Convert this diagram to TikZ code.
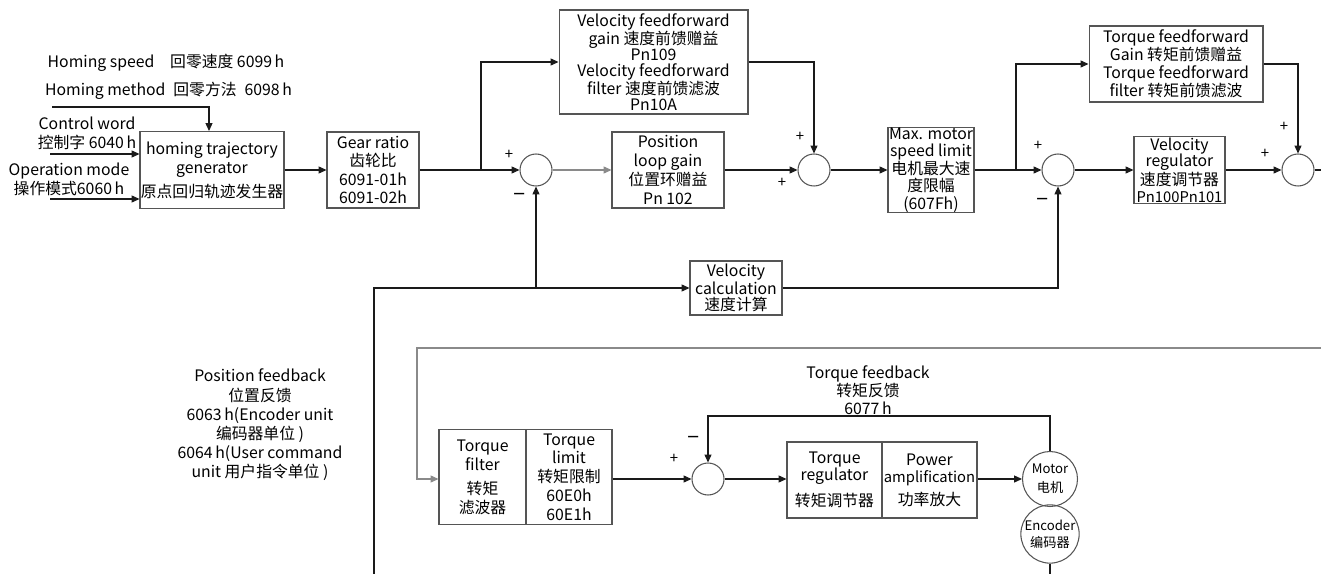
\documentclass[tikz,border=0pt]{standalone}
\usepackage{fontspec}
\setmainfont{Noto Sans CJK SC}
\usetikzlibrary{arrows.meta,calc}
\definecolor{boxc}{HTML}{555555}
\definecolor{linec}{HTML}{1A1A1A}
\definecolor{grayln}{HTML}{8A8A8A}
\tikzset{
  every node/.style={inner sep=0pt, font=\fontsize{9}{10}\selectfont},
  fs/.style 2 args={font=\fontsize{#1}{#2}\selectfont},
  box/.style={draw=boxc, line width=0.6pt, align=center},
  sumc/.style={draw=boxc, circle, minimum size=0.64cm, line width=0.6pt},
  mcirc/.style={draw=boxc, circle, minimum size=1.1cm, line width=0.6pt, align=center},
  arr/.style={draw=linec, line width=0.6pt, -{Triangle[length=4.5pt,width=4pt]}},
  ln/.style={draw=linec, line width=0.6pt},
  lbl/.style={align=center},
  sgn/.style={fs={8.5}{8.5}},
  mns/.style={fs={13}{13}},
}
\begin{document}
\begin{tikzpicture}[x=0.02cm,y=-0.02cm]
\useasboundingbox (0,0) rectangle (1321,574);
% ---------- top row ----------
\node[box, minimum width=2.88cm, minimum height=1.54cm, fs={9}{11.2}] (homing) at (212,170) {homing trajectory\\generator\\[2pt]原点回归轨迹发生器};
\node[box, minimum width=1.84cm, minimum height=1.52cm, fs={9}{10.6}] (gear) at (373,170) {Gear ratio\\齿轮比\\6091-01h\\6091-02h};
\node[sumc] (s1) at (536,170) {};
\node[box, minimum width=3.78cm, minimum height=2.08cm, fs={9}{8.9}] (vff) at (653.5,62) {Velocity feedforward\\gain 速度前馈赠益\\Pn109\\Velocity feedforward\\filter 速度前馈滤波\\Pn10A};
\node[box, minimum width=2.24cm, minimum height=1.52cm, fs={9}{10.8}] (pos) at (668,170) {Position\\loop gain\\位置环赠益\\Pn 102};
\node[sumc] (s2) at (814,170) {};
\node[box, minimum width=1.72cm, minimum height=1.70cm, fs={9}{10}] (max) at (931,170) {Max. motor\\speed limit\\电机最大速\\度限幅\\(607Fh)};
\node[box, minimum width=3.48cm, minimum height=1.52cm, fs={9}{10.3}] (tff) at (1176,64) {Torque feedforward\\Gain 转矩前馈赠益\\Torque feedforward\\filter 转矩前馈滤波};
\node[sumc] (s3) at (1058,170) {};
\node[box, minimum width=1.82cm, minimum height=1.34cm, fs={9}{9.3}] (vr) at (1179.5,170) {Velocity\\regulator\\速度调节器\\{\fontsize{8.4}{9.3}\selectfont Pn100Pn101}};
\node[sumc] (s4) at (1298,170) {};
% ---------- middle ----------
\node[box, minimum width=1.84cm, minimum height=1.08cm, fs={9}{9.2}] (vel) at (736,288) {Velocity\\calculation\\速度计算};
% ---------- bottom row ----------
\node[box, minimum width=1.74cm, minimum height=1.90cm, fs={9}{10.8}] (tfilter) at (482.5,477) {Torque\\filter\\[3pt]转矩\\滤波器};
\node[box, minimum width=1.72cm, minimum height=1.90cm, fs={9}{10.7}] (tlimit) at (569,477) {Torque\\limit\\转矩限制\\60E0h\\60E1h};
\node[sumc] (s5) at (708,479) {};
\node[box, minimum width=1.90cm, minimum height=1.52cm, fs={9}{9.8}] (treg) at (834.5,480) {Torque\\regulator\\[4pt]转矩调节器};
\node[box, minimum width=1.90cm, minimum height=1.52cm, fs={9}{9.8}] (pamp) at (929.5,480) {Power\\{\fontsize{8.4}{9.8}\selectfont amplification}\\[3pt]功率放大};
\node[mcirc, fs={7.5}{10.8}] (motor) at (1050,479) {Motor\\电机};
\node[mcirc, fs={7.5}{9.7}] (encoder) at (1050,534) {Encoder\\编码器};
% ---------- labels ----------
\node[lbl] (hs) at (166,63) {Homing speed\quad 回零速度 6099\,h};
\node[lbl] (hm) at (168.5,91) {Homing method\enspace 回零方法\enspace 6098\,h};
\node[lbl, fs={9}{10.8}] (cw) at (87,133.5) {Control word\\控制字 6040\,h};
\node[lbl, fs={9}{10.8}] (om) at (69,179.5) {Operation mode\\操作模式6060\,h};
\node[lbl, fs={9}{10.9}] (pfb) at (260,425) {Position feedback\\位置反馈\\6063\,h(Encoder unit\\编码器单位 )\\6064\,h(User command\\unit 用户指令单位 )};
\node[lbl, fs={9}{10.2}] (tfb) at (868,390) {Torque feedback\\转矩反馈\\6077\,h};
% signs
\node[sgn] (p1) at (509,155) {+};
\node[mns] (m1) at (520,197) {–};
\node[sgn] (p2a) at (800,137) {+};
\node[sgn] (p2b) at (782,183) {+};
\node[sgn] (p3) at (1038,146) {+};
\node[mns] (m3) at (1043,202) {–};
\node[sgn] (p4a) at (1284,127) {+};
\node[sgn] (p4b) at (1265,154) {+};
\node[sgn] (p5) at (674,459) {+};
\node[mns] (m5) at (694,440) {–};
% ---------- connectors ----------
\coordinate (hsrc) at (52,107);
\coordinate (hbend) at (209,107);
\draw[arr] (hsrc) -- (hbend) -- (hbend |- homing.north);
\coordinate (cwsrc) at (50,154);
\draw[arr] (cwsrc) -- (cwsrc -| homing.west);
\coordinate (omsrc) at (50,199);
\draw[arr] (omsrc) -- (omsrc -| homing.west);
\draw[arr] (homing.east) -- (gear.west);
\draw[arr] (gear.east) -- (s1.west);
\coordinate (br1) at (481,170);
\draw[arr] (br1) |- (vff.west);
\draw[arr, draw=grayln] (s1.east) -- (pos.west);
\draw[arr] (pos.east) -- (s2.west);
\draw[arr] (vff.east) -| (s2.north);
\draw[arr] (s2.east) -- (max.west);
\draw[arr] (max.east) -- (s3.west);
\coordinate (br2) at (1016,170);
\draw[arr] (br2) |- (tff.west);
\draw[arr] (tff.east) -| (s4.north);
\draw[arr] (s3.east) -- (vr.west);
\draw[arr] (vr.east) -- (s4.west);
\coordinate (out) at (1321,170);
\draw[ln] (s4.east) -- (out);
\coordinate (pfbsrc) at (374,574);
\draw[arr] (pfbsrc) |- (vel.west);
\coordinate (br3) at (536,288);
\draw[arr] (br3) -- (s1.south);
\draw[arr] (vel.east) -| (s3.south);
\coordinate (tsrc) at (1321,348);
\coordinate (tcorner) at (417,348);
\draw[arr, draw=grayln] (tsrc) -- (tcorner) |- (s5 -| tfilter.west);
\draw[arr] (s5 -| tlimit.east) -- (s5.west);
\draw[arr] (s5.east) -- (s5 -| treg.west);
\draw[arr] (s5 -| pamp.east) -- (motor.west);
\coordinate (tfbc) at (708,416);
\draw[arr] (motor.north) |- (tfbc) -- (s5.north);
\coordinate (encout) at (1050,574);
\draw[ln] (encoder.south) -- (encout);
\end{tikzpicture}
\end{document}
